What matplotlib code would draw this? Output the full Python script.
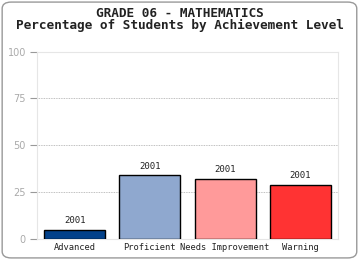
import matplotlib
matplotlib.use("Agg")
import matplotlib.pyplot as plt
from matplotlib.patches import FancyBboxPatch

categories = ["Advanced", "Proficient", "Needs Improvement", "Warning"]
values = [5, 34, 32, 29]
bar_labels = ["2001", "2001", "2001", "2001"]
colors = ["#02418a", "#8fa8cf", "#ff9a9a", "#ff3333"]
yticks = [0, 25, 50, 75, 100]

fig = plt.figure(figsize=(3.6, 2.6), dpi=100)
fig.patch.set_facecolor("white")
border = FancyBboxPatch((0.006, 0.008), 0.985, 0.984, boxstyle="round,pad=0,rounding_size=0.025",
                        transform=fig.transFigure, facecolor="none", edgecolor="#999999",
                        linewidth=1.0, zorder=5)
fig.patches.append(border)

ax = fig.add_axes([0.1028, 0.0808, 0.836, 0.721])
ax.set_facecolor("white")
x = range(len(categories))
ax.bar(x, values, width=61/75, color=colors, edgecolor="black", linewidth=1.0, zorder=3)
for xi, v, lab in zip(x, values, bar_labels):
    ax.text(xi, v + 2.5, lab, ha="center", va="bottom", fontsize=6.5,
            family="DejaVu Sans Mono", color="#222222")
ax.set_xlim(-0.5, len(categories) - 0.5)
ax.set_ylim(0, 100)
ax.set_yticks(yticks)
ax.set_yticklabels([str(t) for t in yticks], fontsize=7, color="#aaaaaa", family="DejaVu Sans")
ax.set_xticks(list(x))
ax.set_xticklabels(categories, fontsize=6.3, family="DejaVu Sans Mono", color="#222222")
ax.tick_params(axis="x", length=0, pad=3)
ax.tick_params(axis="y", length=5, color="#999999", pad=3, width=0.8)
for t in [25, 50, 75]:
    ax.axhline(t, color="#aaaaaa", linestyle=(0, (1, 1)), linewidth=0.6, zorder=1)
for s in ax.spines.values():
    s.set_color("#e6e6e6")
    s.set_linewidth(0.8)

fig.text(0.5, 0.948, "GRADE 06 - MATHEMATICS", ha="center", va="center",
         fontsize=9.2, fontweight="bold", family="DejaVu Sans Mono", color="#222222")
fig.text(0.5, 0.902, "Percentage of Students by Achievement Level", ha="center", va="center",
         fontsize=9.2, fontweight="bold", family="DejaVu Sans Mono", color="#222222")

fig.savefig("out.png", dpi=100)
